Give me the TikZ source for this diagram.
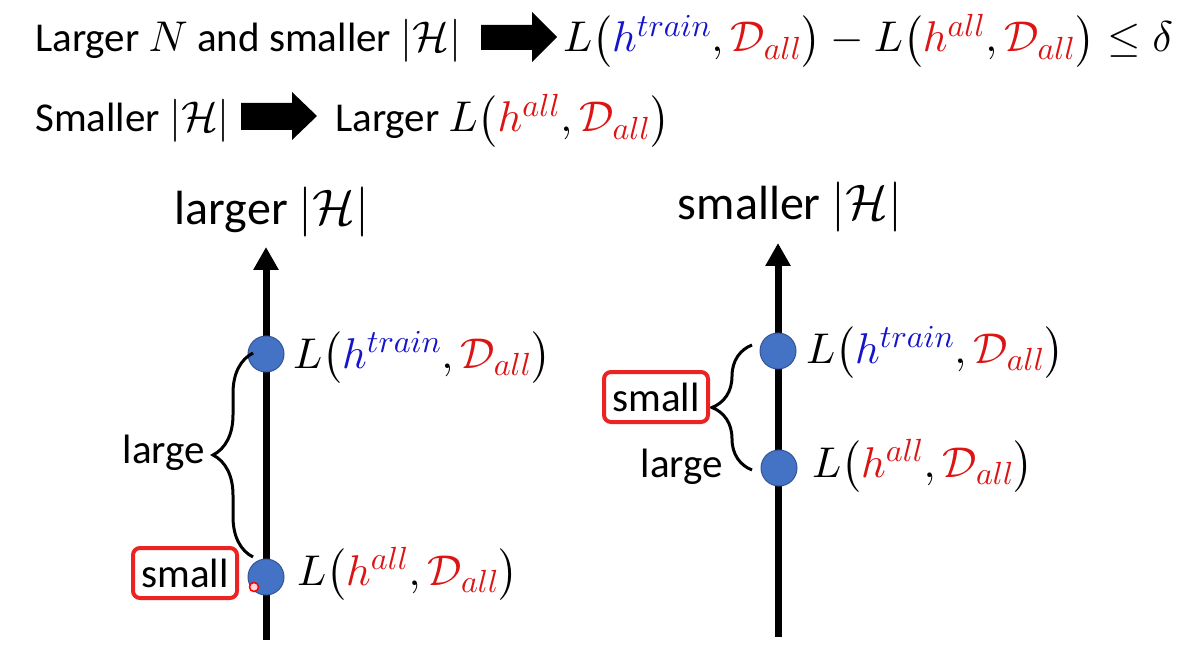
\documentclass[tikz,border=0pt]{standalone}
\usepackage[no-math]{fontspec}
\setmainfont{Carlito}
\DeclareFontShape{OML}{cmm}{m}{it}{<->cmmi10}{}
\DeclareFontShape{OMS}{cmsy}{m}{n}{<->cmsy10}{}
\DeclareFontShape{OMX}{cmex}{m}{n}{<->cmex10}{}
\DeclareFontShape{OT1}{cmr}{m}{n}{<->cmr10}{}
\DeclareMathSizes{41}{43}{32}{24}
\DeclareMathSizes{48}{50}{37}{28}
\usetikzlibrary{arrows.meta,decorations.pathreplacing}
\definecolor{hblue}{RGB}{20,20,205}
\definecolor{dred}{RGB}{220,20,20}
\definecolor{dotfill}{RGB}{68,114,196}
\definecolor{dotdraw}{RGB}{50,85,150}
\definecolor{boxred}{RGB}{235,35,35}
\newcommand{\Ltr}{L\mathopen{}\left(\textcolor{hblue}{h^{train}},\textcolor{dred}{\mathcal{D}_{all}}\right)\mathclose{}}
\newcommand{\Lall}{L\mathopen{}\left(\textcolor{dred}{h^{all}},\textcolor{dred}{\mathcal{D}_{all}}\right)\mathclose{}}
\begin{document}
\begin{tikzpicture}[x=1pt,y=-1pt,
  txt/.style={font=\fontsize{41}{49}\selectfont, inner sep=0pt},
  ttl/.style={font=\fontsize{48}{56}\selectfont, inner sep=0pt},
  axisline/.style={line width=7pt, -{Triangle[width=24pt,length=23pt]}},
  dot/.style={circle, fill=dotfill, draw=dotdraw, line width=1pt, minimum size=36pt, inner sep=0pt},
  blockarrow/.style={fill=black},
  curly/.style={decorate, decoration={brace, amplitude=40pt}, line width=3pt},
  smallbox/.style={draw=boxred, line width=4pt, rounded corners=7pt, minimum width=104pt, minimum height=50pt, inner sep=0pt, font=\fontsize{41}{49}\selectfont},
  laser/.style={circle, draw=red, fill=red!15, line width=1.5pt, minimum size=9pt, inner sep=0pt}
]
\useasboundingbox[fill=white] (0,0) rectangle (1191,652);

% top lines
\node[txt, anchor=base west] (l1a) at (35,52) {Larger $N$ and smaller $|\mathcal{H}|$};
\fill[blockarrow] (481,25) -- (532,25) -- (532,12) -- (557,37) -- (532,62) -- (532,50) -- (481,50) -- cycle;
\node[txt, anchor=base west] (l1b) at (563,52) {$\Ltr - \Lall \leq \delta$};

\node[txt, anchor=base west] (l2a) at (35,132) {Smaller $|\mathcal{H}|$};
\fill[blockarrow] (241,103) -- (292,103) -- (292,92) -- (317,116) -- (292,140) -- (292,130) -- (241,130) -- cycle;
\node[txt, anchor=base west] (l2b) at (335,132) {Larger $\Lall$};

% left axis
\node[ttl, anchor=base] (ttlL) at (272,225) {larger $|\mathcal{H}|$};
\coordinate (lb) at (266,640);
\coordinate (lt) at (266,247);
\draw[axisline] (lb) -- (lt);
\node[dot] (dLt) at (266,354) {};
\node[dot] (dLb) at (266,577) {};
\node[txt, anchor=base west] (labLt) at (293,368) {$\Ltr$};
\node[txt, anchor=base west] (labLb) at (297,585) {$\Lall$};
\coordinate (bLb) at (253,557);
\coordinate (bLt) at (253,353);
\draw[curly] (bLb) -- (bLt);
\node[txt, anchor=base east] (largeL) at (205,463) {large};
\node[smallbox] (smallL) at (185,573) {small};
\node[laser] (laserdot) at (254,587) {};

% right axis
\node[ttl, anchor=base] (ttlR) at (790,220) {smaller $|\mathcal{H}|$};
\coordinate (rb) at (778,637);
\coordinate (rt) at (778,243);
\draw[axisline] (rb) -- (rt);
\node[dot] (dRt) at (778,351) {};
\node[dot] (dRb) at (779,468) {};
\node[txt, anchor=base west] (labRt) at (806,363) {$\Ltr$};
\node[txt, anchor=base west] (labRb) at (812,477) {$\Lall$};
\coordinate (bRb) at (752,470);
\coordinate (bRt) at (752,345);
\draw[curly] (bRb) -- (bRt);
\node[smallbox] (smallR) at (656,397) {small};
\node[txt, anchor=base east] (largeR) at (723,477) {large};
\end{tikzpicture}
\end{document}
